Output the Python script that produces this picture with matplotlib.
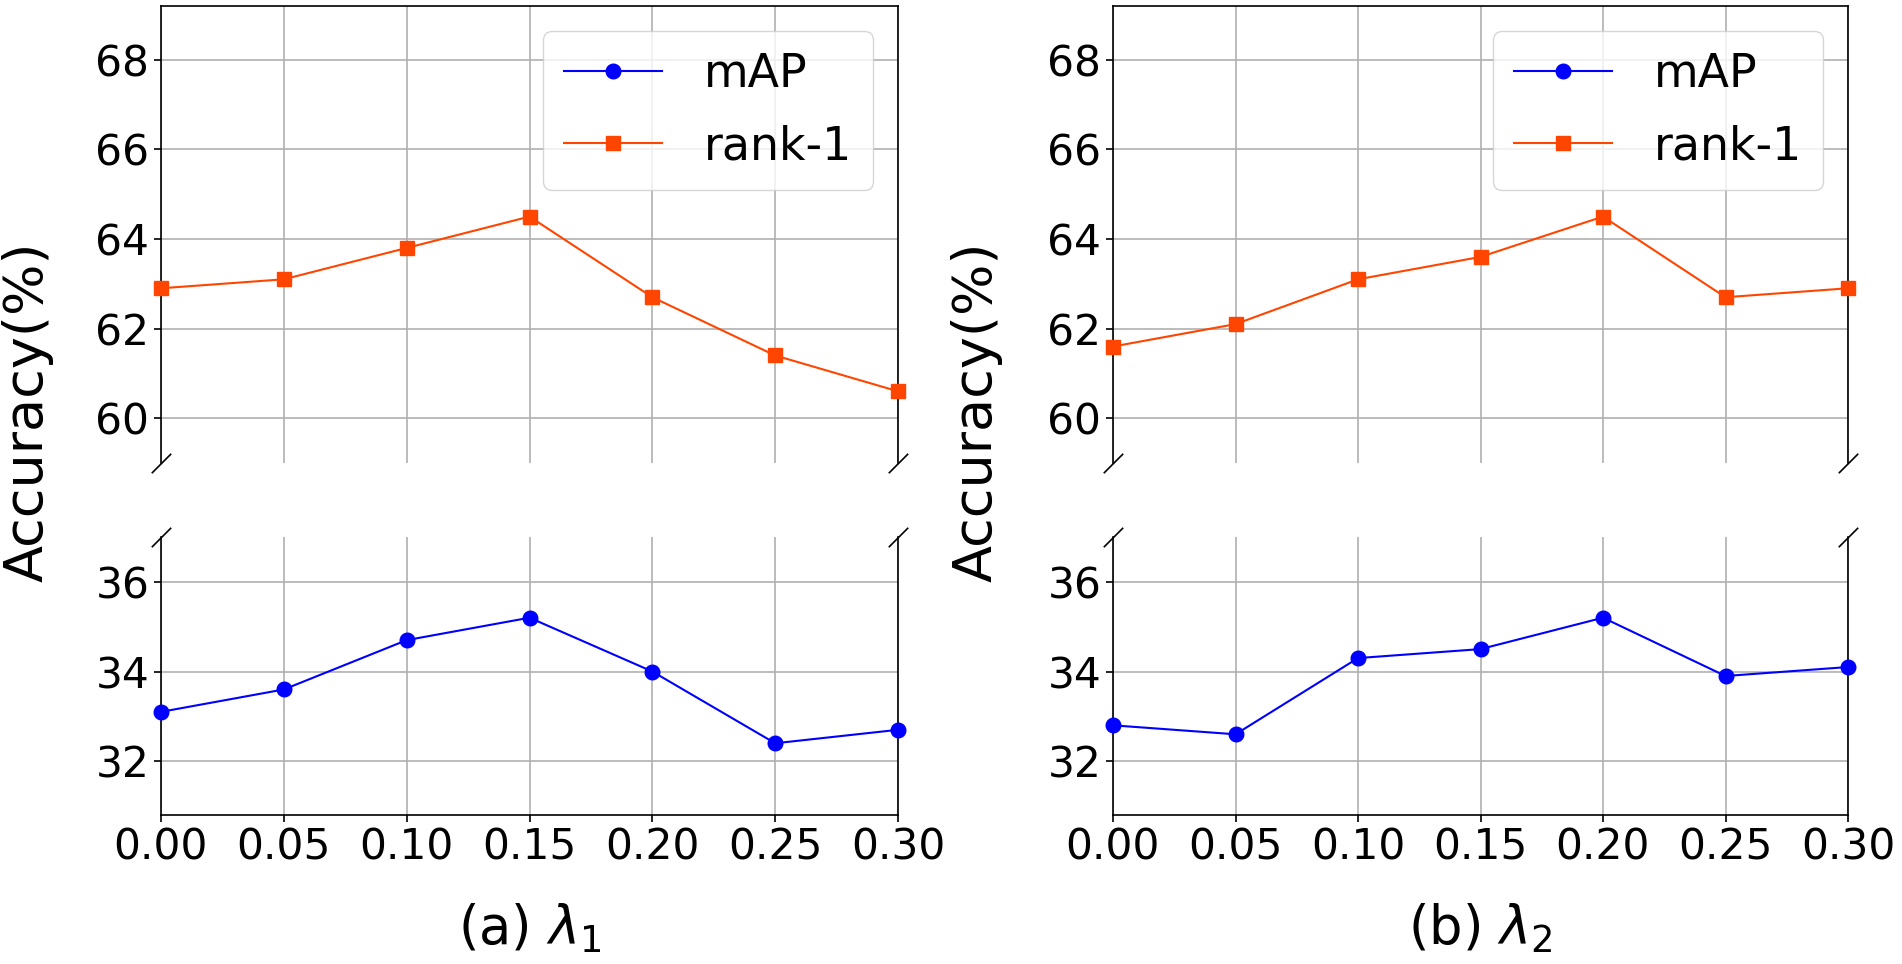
import matplotlib
matplotlib.use("Agg")
import matplotlib.pyplot as plt
import numpy as np

lam = [0.00, 0.05, 0.10, 0.15, 0.20, 0.25, 0.30]

# (a) lambda_1
map_a = [33.1, 33.6, 34.7, 35.2, 34.0, 32.4, 32.7]
rank1_a = [62.9, 63.1, 63.8, 64.5, 62.7, 61.4, 60.6]

# (b) lambda_2
map_b = [32.8, 32.6, 34.3, 34.5, 35.2, 33.9, 34.1]
rank1_b = [61.6, 62.1, 63.1, 63.6, 64.5, 62.7, 62.9]

titles = [r"(a) $\lambda_1$", r"(b) $\lambda_2$"]
top_ticks = [60, 62, 64, 66, 68]
bot_ticks = [32, 34, 36]

W, H = 1902, 964
fig = plt.figure(figsize=(W / 100, H / 100), dpi=100)

# pixel boxes (left, right) for the two panels
panels = [(161, 898), (1113, 1848)]
top_y = (6, 463)
bot_y = (537, 815)


def box(x0, x1, y0, y1):
    return [x0 / W, 1 - y1 / H, (x1 - x0) / W, (y1 - y0) / H]


def style(ax):
    ax.grid(True, color="#b0b0b0", linewidth=1.2)
    ax.set_axisbelow(True)
    for s in ax.spines.values():
        s.set_linewidth(1.2)
    ax.tick_params(labelsize=30.5, length=5, width=1.2)
    ax.set_xlim(0, 0.3)
    ax.set_xticks(lam)


data = [(map_a, rank1_a), (map_b, rank1_b)]
ylab_x = [28, 977]

for i, (x0, x1) in enumerate(panels):
    m, r = data[i]
    ax = fig.add_axes(box(x0, x1, *top_y))
    ax2 = fig.add_axes(box(x0, x1, *bot_y))

    l1, = ax2.plot(lam, m, color="b", marker="o", markersize=10.5,
                   linewidth=1.5, label="mAP", clip_on=False, zorder=3)
    l2, = ax.plot(lam, r, color="orangered", marker="s", markersize=9.5,
                  linewidth=1.5, label="rank-1", clip_on=False, zorder=3)

    for a in (ax, ax2):
        style(a)

    ax.set_ylim(59, 69.2)
    ax.set_yticks(top_ticks)
    ax2.set_ylim(30.8, 37)
    ax2.set_yticks(bot_ticks)
    ax2.set_xticklabels(["%.2f" % v for v in lam])

    ax.spines["bottom"].set_visible(False)
    ax2.spines["top"].set_visible(False)
    ax.tick_params(bottom=False, labelbottom=False)

    # break marks
    kw = dict(marker=[(-1, -1), (1, 1)], markersize=14, linestyle="none",
              color="k", mec="k", mew=1.2, clip_on=False)
    ax.plot([0, 1], [0, 0], transform=ax.transAxes, **kw)
    ax2.plot([0, 1], [1, 1], transform=ax2.transAxes, **kw)

    ax.legend(handles=[l1, l2], loc="upper right", fontsize=33,
              handlelength=2.14, handletextpad=0.9, borderpad=0.46,
              labelspacing=0.59, borderaxespad=0.55)

    fig.text(ylab_x[i] / W, 1 - 412 / H, "Accuracy(%)", rotation=90,
             fontsize=39, ha="center", va="center")
    fig.text((x0 + x1) / 2 / W, 1 - 928 / H, titles[i], fontsize=38,
             ha="center", va="center")

fig.savefig("out.png", dpi=100)
